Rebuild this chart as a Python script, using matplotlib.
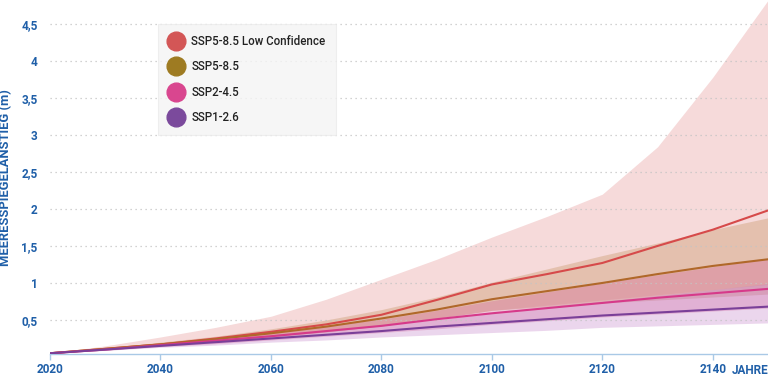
import matplotlib.pyplot as plt
from matplotlib.lines import Line2D

plt.rcParams["font.family"] = ["Roboto", "DejaVu Sans"]

YEARS = [2020, 2030, 2040, 2050, 2060, 2070, 2080, 2090, 2100, 2110, 2120, 2130, 2140, 2150]

# medians (m)
LC_MED = [0.05, 0.11, 0.17, 0.25, 0.34, 0.44, 0.57, 0.77, 0.98, 1.12, 1.27, 1.50, 1.72, 1.98]
S585_MED = [0.05, 0.11, 0.17, 0.24, 0.32, 0.41, 0.52, 0.64, 0.78, 0.89, 1.00, 1.12, 1.23, 1.32]
S245_MED = [0.05, 0.10, 0.16, 0.22, 0.28, 0.35, 0.42, 0.51, 0.59, 0.66, 0.73, 0.80, 0.86, 0.92]
S126_MED = [0.05, 0.10, 0.15, 0.20, 0.25, 0.30, 0.35, 0.41, 0.46, 0.51, 0.56, 0.60, 0.64, 0.68]

# likely ranges
LC_LO = [0.05, 0.10, 0.15, 0.21, 0.27, 0.34, 0.42, 0.52, 0.63, 0.70, 0.77, 0.84, 0.91, 0.98]
LC_HI = [0.05, 0.15, 0.27, 0.40, 0.55, 0.78, 1.05, 1.32, 1.62, 1.90, 2.20, 2.84, 3.78, 4.82]
S585_LO = [0.05, 0.10, 0.15, 0.21, 0.27, 0.34, 0.42, 0.52, 0.63, 0.68, 0.73, 0.77, 0.81, 0.85]
S585_HI = [0.05, 0.12, 0.20, 0.28, 0.38, 0.50, 0.64, 0.81, 1.01, 1.19, 1.37, 1.54, 1.72, 1.88]
S245_LO = [0.05, 0.09, 0.14, 0.18, 0.23, 0.28, 0.33, 0.38, 0.44, 0.49, 0.54, 0.58, 0.62, 0.66]
S245_HI = [0.05, 0.11, 0.18, 0.25, 0.33, 0.42, 0.51, 0.63, 0.76, 0.88, 1.00, 1.11, 1.22, 1.33]
S126_LO = [0.05, 0.09, 0.13, 0.16, 0.20, 0.23, 0.27, 0.30, 0.33, 0.36, 0.40, 0.42, 0.44, 0.46]
S126_HI = [0.05, 0.11, 0.17, 0.24, 0.30, 0.36, 0.43, 0.50, 0.60, 0.68, 0.75, 0.83, 0.91, 0.99]

LABELS = ["SSP5-8.5 Low Confidence", "SSP5-8.5", "SSP2-4.5", "SSP1-2.6"]
LEGEND_COLORS = ["#d35656", "#9e7b22", "#d9468f", "#7b4a9c"]

X_TICKS = [2020, 2040, 2060, 2080, 2100, 2120, 2140]
Y_TICKS = [0.5, 1, 1.5, 2, 2.5, 3, 3.5, 4, 4.5]
Y_TICK_LABELS = ["0,5", "1", "1,5", "2", "2,5", "3", "3,5", "4", "4,5"]

BLUE = "#1f5fa8"
AXIS_BLUE = "#a9c9e6"

fig = plt.figure(figsize=(7.68, 3.79), dpi=100)
ax = fig.add_axes([50 / 768, 1 - 354 / 379, 718 / 768, 354 / 379])

bands = [
    (LC_LO, LC_HI, "#e9a3a3", 0.40),
    (S585_LO, S585_HI, "#c99a6e", 0.40),
    (S245_LO, S245_HI, "#d4669a", 0.35),
    (S126_LO, S126_HI, "#c07ac4", 0.30),
]
for lo, hi, col, a in bands:
    ax.fill_between(YEARS, lo, hi, color=col, alpha=a, linewidth=0, zorder=1)

for yv in Y_TICKS:
    ax.axhline(yv, color="#c4c4c4", linewidth=0.9, linestyle=(0, (1, 3)), zorder=2)

lines = [
    (LC_MED, "#d64a4a"),
    (S585_MED, "#b0682a"),
    (S245_MED, "#d63a8a"),
    (S126_MED, "#7a3f98"),
]
for med, col in lines:
    ax.plot(YEARS, med, color=col, linewidth=1.5, zorder=3)

ax.set_xlim(2020, 2150)
ax.set_ylim(0.04, 4.824)

for s in ["top", "right", "left"]:
    ax.spines[s].set_visible(False)
ax.spines["bottom"].set_color(AXIS_BLUE)
ax.spines["bottom"].set_linewidth(1.0)

ax.set_xticks(X_TICKS)
ax.set_xticklabels([str(x) for x in X_TICKS])
ax.set_yticks(Y_TICKS)
ax.set_yticklabels(Y_TICK_LABELS)
ax.tick_params(axis="x", colors=AXIS_BLUE, length=4.3, width=1.0, pad=2.5)
ax.tick_params(axis="y", length=0, pad=9)
for lab in ax.get_xticklabels() + ax.get_yticklabels():
    lab.set_color(BLUE)
    lab.set_fontweight("bold")
    lab.set_fontsize(8.5)

# x tick label top: axis (354 px) + tick (6 px) + pad (3.5 px)
fig.text(1.0, 1 - 363.5 / 379, "JAHRE", ha="right", va="top",
         color=BLUE, fontweight="bold", fontsize=8.5)
fig.text(6 / 768, 1 - 178 / 379, "MEERESSPIEGELANSTIEG (m)", rotation=90,
         ha="center", va="center", color=BLUE, fontweight="bold", fontsize=9.3)

handles = [
    Line2D([], [], marker="o", linestyle="None", markersize=13.5,
           markerfacecolor=c, markeredgecolor=c, label=l)
    for c, l in zip(LEGEND_COLORS, LABELS)
]
leg = ax.legend(handles=handles, loc="upper left", bbox_to_anchor=(0.150, 0.932),
                frameon=True, fontsize=8.3, labelspacing=1.08, handletextpad=0.75,
                borderpad=0.95, handlelength=1.2, borderaxespad=0, fancybox=False)
leg.get_frame().set_facecolor("#f4f4f4")
leg.get_frame().set_edgecolor("#ebebeb")
leg.get_frame().set_linewidth(0.8)
leg.set_zorder(5)
for t in leg.get_texts():
    t.set_fontweight("medium")
    t.set_color("#222222")

fig.savefig("out.png", dpi=100)
